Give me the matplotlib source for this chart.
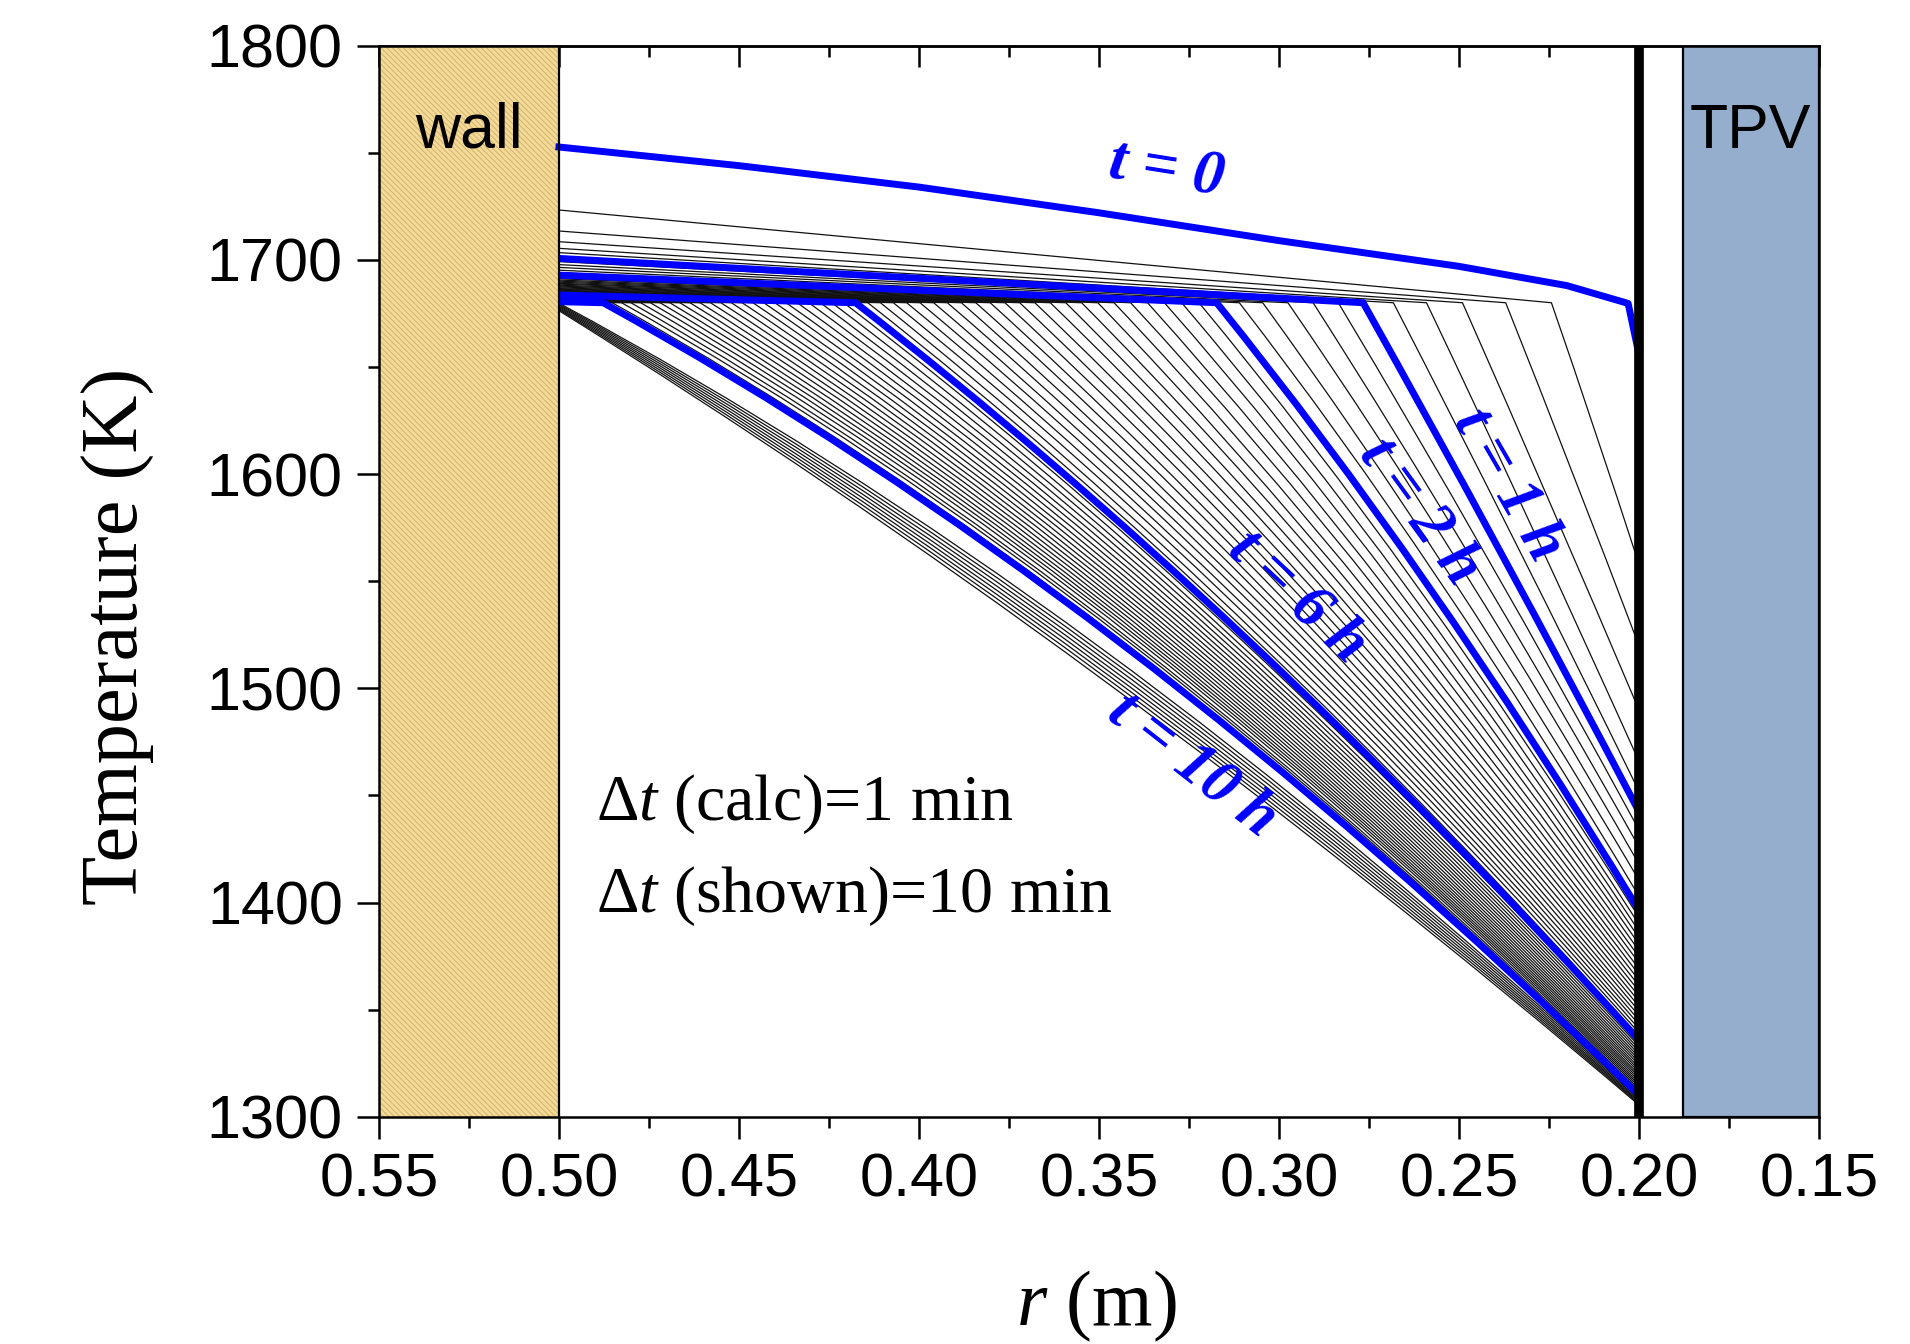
import matplotlib
matplotlib.use("Agg")
import matplotlib.pyplot as plt
from matplotlib.path import Path
from matplotlib.patches import PathPatch
from matplotlib.ticker import MultipleLocator, FormatStrFormatter

# %% data
# t = 0 profile
r_t0 = [0.50, 0.45, 0.40, 0.35, 0.30, 0.25, 0.22, 0.203, 0.20]
T_t0 = [1752.7, 1744, 1734, 1722, 1709, 1697, 1688, 1679.7, 1656]

# profiles every 10 min (t = 10 min ... 11 h 20 min)
# front (kink) radius, temperature at the wall (r=0.5), at r=0.2, sag of descent
r_front = [0.2243, 0.2370, 0.2490, 0.2590, 0.2682, 0.2766,
           0.2835, 0.2905, 0.2975, 0.3045, 0.3110, 0.3173,
           0.3222, 0.3270, 0.3318, 0.3365, 0.3412, 0.3458, 0.3503, 0.3548,
           0.3592, 0.3635, 0.3678, 0.3720, 0.3761, 0.3802, 0.3842, 0.3882,
           0.3921, 0.3959, 0.3997, 0.4034, 0.4071, 0.4107, 0.4142, 0.4176,
           0.4209, 0.4242, 0.4274, 0.4306, 0.4338, 0.4369, 0.4400, 0.4431,
           0.4461, 0.4491, 0.4521, 0.4550, 0.4579, 0.4608, 0.4636, 0.4664,
           0.4692, 0.4719, 0.4746, 0.4773, 0.4800, 0.4826, 0.4852, 0.4877,
           0.50, 0.50, 0.50, 0.50, 0.50, 0.50, 0.50, 0.50]
T_wall = [1723.3, 1713.5, 1708.5, 1705.4, 1703.4, 1700.7,
          1699.2, 1697.8, 1696.5, 1695.2, 1694.0, 1692.9,
          1692.3, 1691.7, 1691.2, 1690.6, 1690.1, 1689.6, 1689.1, 1688.7,
          1688.2, 1687.8, 1687.4, 1687.0, 1686.6, 1686.3, 1685.9, 1685.6,
          1685.3, 1685.0, 1684.8, 1684.5, 1684.3, 1684.0, 1683.8, 1683.6,
          1683.4, 1683.2, 1683.0, 1682.8, 1682.7, 1682.5, 1682.3, 1682.2,
          1682.0, 1681.9, 1681.8, 1681.6, 1681.5, 1681.4, 1681.3, 1681.2,
          1681.1, 1681.0, 1680.9, 1680.8, 1680.7, 1680.6, 1680.55, 1680.5,
          1679.8, 1679.3, 1678.8, 1678.3, 1677.8, 1677.3, 1676.8, 1676.3]
T_end = [1558, 1520, 1490, 1466, 1452, 1442.5,
         1434, 1426, 1418, 1410.5, 1403, 1396.4,
         1393.1, 1389.9, 1386.7, 1383.6, 1380.6, 1377.6, 1374.7, 1371.9,
         1369.1, 1366.4, 1363.8, 1361.2, 1358.7, 1356.3, 1353.9, 1351.6,
         1349.4, 1347.2, 1345.1, 1343.1, 1341.1, 1339.2, 1337.4, 1335.8,
         1334.4, 1333.0, 1331.7, 1330.4, 1329.1, 1327.8, 1326.6, 1325.4,
         1324.2, 1323.0, 1321.9, 1320.8, 1319.7, 1318.7, 1317.7, 1316.7,
         1315.7, 1314.8, 1313.9, 1313.0, 1312.2, 1311.4, 1310.7, 1310.1,
         1309.3, 1308.7, 1308.1, 1307.5, 1307.0, 1306.5, 1306.0, 1305.5]
T_sag = [1, 1, 1, 1.5, 1.5, 2,
         3, 4, 6, 7, 9, 10,
         10, 10, 10.5, 10.5, 11, 11, 11, 11.5, 11.5, 12, 12, 12,
         12.5, 12.5, 13, 13, 13.5, 13.5, 14, 14, 14.5, 14.5, 15, 15,
         15.5, 16, 16.5, 17, 17.5, 18, 18.5, 19, 19.5, 20, 20.5, 21,
         21.5, 22, 22.5, 23, 23.5, 24, 24.5, 25, 25, 25.5, 25.5, 26,
         25, 23.5, 22, 20.5, 19, 17.5, 16, 14.5]
T_front = 1680.0

# highlighted profiles (index into the 10-min lists) and their labels
blue_idx = [5, 11, 35, 59]
blue_labels = ["t = 0", "t = 1 h", "t = 2 h", "t = 6 h", "t = 10 h"]
label_r = [0.3311, 0.2364, 0.2611, 0.2949, 0.3240]
label_T = [1741.7, 1595, 1582.5, 1542.7, 1464]
label_rot = [-9, -60, -54, -43, -38]

# %%
plt.rcParams.update({
    "font.family": "Liberation Sans",
    "mathtext.fontset": "custom",
    "mathtext.rm": "Liberation Serif",
    "mathtext.it": "Liberation Serif:italic",
    "hatch.linewidth": 0.7,
})

blue = "#0000FF"
lwd = 1.8

fig = plt.figure(figsize=(19.1, 13.44), dpi=100)
ax = fig.add_axes([0.1984, 0.1691, 0.7539, 0.7969])


def profile_path(i):
    # flat part from the wall to the front, then a smooth (quadratic) drop to r = 0.2
    rk = r_front[i]
    if rk < 0.5:
        ctrl = ((rk + 0.2) / 2, (T_front + T_end[i]) / 2 + 2 * T_sag[i])
        verts = [(0.5, T_wall[i]), (rk, T_front), ctrl, (0.2, T_end[i])]
        codes = [Path.MOVETO, Path.LINETO, Path.CURVE3, Path.CURVE3]
    else:
        ctrl = (0.35, (T_wall[i] + T_end[i]) / 2 + 2 * T_sag[i])
        verts = [(0.5, T_wall[i]), ctrl, (0.2, T_end[i])]
        codes = [Path.MOVETO, Path.CURVE3, Path.CURVE3]
    return Path(verts, codes)


for i in range(len(r_front)):
    if i in blue_idx:
        continue
    ax.add_patch(PathPatch(profile_path(i), facecolor="none",
                           edgecolor="#111111", lw=0.9, zorder=2))

ax.plot(r_t0, T_t0, color=blue, lw=5, zorder=3)
for i in blue_idx:
    ax.add_patch(PathPatch(profile_path(i), facecolor="none",
                           edgecolor=blue, lw=5, zorder=3))

# wall, TPV and the inner surface
ax.axvspan(0.50, 0.55, facecolor="#F3DA98", edgecolor="#D2B46A",
           hatch="\\\\\\\\\\\\", lw=0, zorder=1)
ax.axvline(0.50, color="k", lw=1.6, zorder=4)
ax.axvspan(0.15, 0.1878, facecolor="#96AECD", edgecolor="k", lw=1.6, zorder=4)
ax.axvline(0.20, color="k", lw=7, zorder=5)

ax.text(0.525, 1760, "wall", fontsize=45, ha="center", va="center", zorder=6)
ax.text(0.169, 1760, "TPV", fontsize=45, ha="center", va="center", zorder=6)

for lab, xr, yT, rot in zip(blue_labels, label_r, label_T, label_rot):
    ax.text(xr, yT, lab, color=blue, fontsize=45, family="Liberation Serif",
            style="italic", weight="bold", rotation=rot,
            ha="center", va="center", zorder=6)

ax.text(0.4897, 1446, "Δ$t$ (calc)=1 min", fontsize=47.5,
        family="Liberation Serif", ha="left", va="center", zorder=6)
ax.text(0.4897, 1403, "Δ$t$ (shown)=10 min", fontsize=47.5,
        family="Liberation Serif", ha="left", va="center", zorder=6)

# axes
ax.set_xlim(0.55, 0.15)
ax.set_ylim(1300, 1800)
ax.xaxis.set_major_locator(MultipleLocator(0.05))
ax.xaxis.set_minor_locator(MultipleLocator(0.025))
ax.xaxis.set_major_formatter(FormatStrFormatter("%.2f"))
ax.yaxis.set_major_locator(MultipleLocator(100))
ax.yaxis.set_minor_locator(MultipleLocator(50))

for s in ax.spines.values():
    s.set_linewidth(lwd)
    s.set_zorder(7)

ax.tick_params(which="major", direction="out", length=16, width=lwd,
               labelsize=44, pad=10, right=False, top=False)
ax.tick_params(which="minor", direction="out", length=8, width=lwd,
               right=False, top=False)

top = ax.secondary_xaxis("top")
top.xaxis.set_major_locator(MultipleLocator(0.05))
top.xaxis.set_minor_locator(MultipleLocator(0.025))
top.tick_params(which="major", direction="in", length=15, width=lwd,
                labeltop=False)
top.tick_params(which="minor", direction="in", length=8, width=lwd)
top.spines["top"].set_linewidth(lwd)

fig.text(1096 / 1910, 1 - 1306 / 1344, "$r$ (m)", fontsize=56,
         family="Liberation Serif", ha="center", va="center")
fig.text(118 / 1910, 1 - 636 / 1344, "Temperature (K)", fontsize=58,
         family="Liberation Serif", rotation=90, ha="center", va="center")

plt.savefig("out.png", dpi=100)
